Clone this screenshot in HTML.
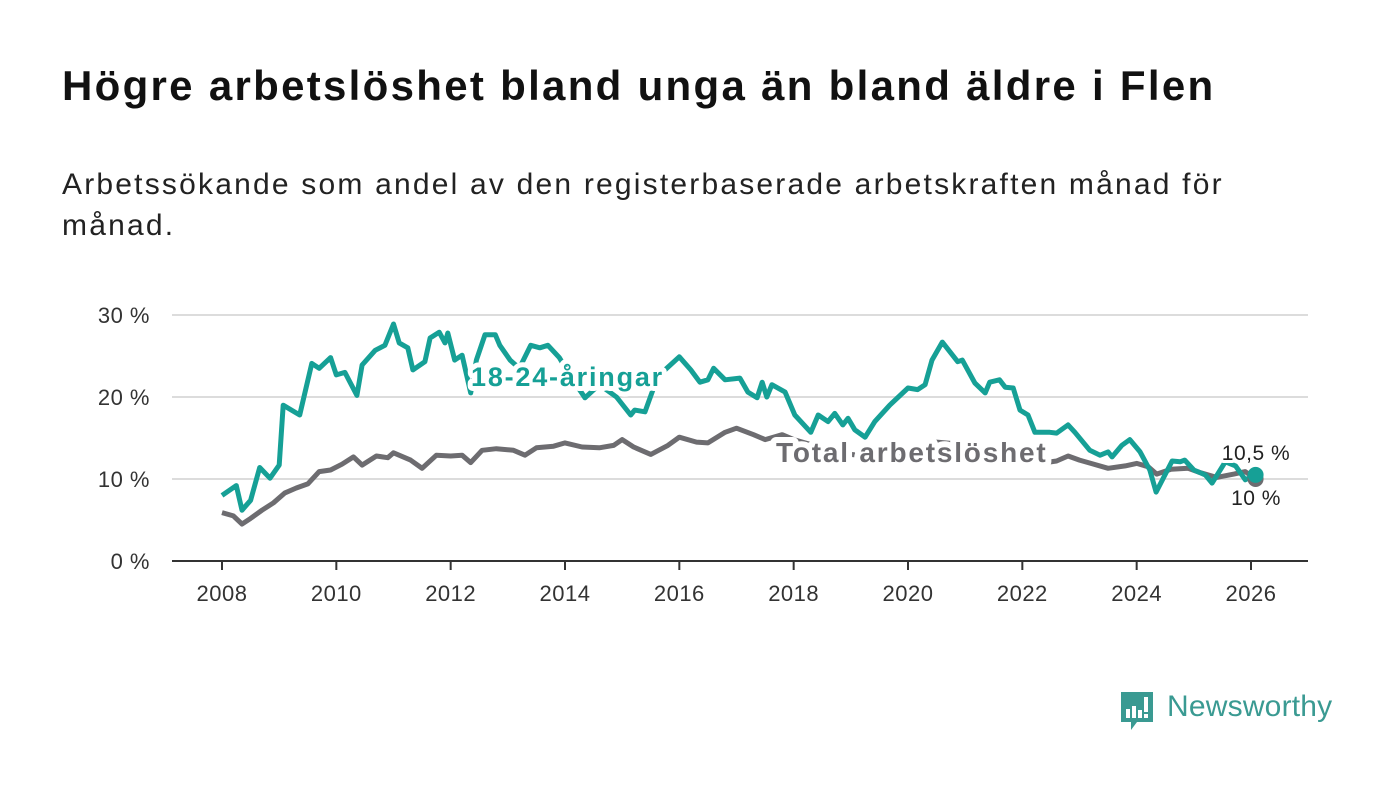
<!DOCTYPE html>
<html><head><meta charset="utf-8">
<style>
body{margin:0;width:1400px;height:794px;background:#fff;font-family:"Liberation Sans","DejaVu Sans",sans-serif;overflow:hidden;position:relative}
h1{position:absolute;left:62px;top:62px;margin:0;font-size:42px;font-weight:bold;color:#111;letter-spacing:2.3px}
.sub{position:absolute;left:62px;top:164px;margin:0;font-size:30px;line-height:41px;color:#222;width:1200px;letter-spacing:2.2px}
svg{position:absolute;left:0;top:0}
.logo{position:absolute;left:1119px;top:690px}
.logotext{position:absolute;left:1167px;top:690px;font-size:30px;color:#3a9a92;font-weight:normal;letter-spacing:0.2px}
</style></head><body>
<h1>Högre arbetslöshet bland unga än bland äldre i Flen</h1>
<p class="sub">Arbetssökande som andel av den registerbaserade arbetskraften månad för månad.</p>
<svg id="chart" width="1400" height="794"></svg>
<svg class="logo" width="36" height="44"><path d="M2 2h32v30H18l-6 8v-8H2z" fill="#3a9a92"/><rect x="7" y="19" width="4" height="9" fill="#fff"/><rect x="13" y="16" width="4" height="12" fill="#fff"/><rect x="19" y="20" width="4" height="8" fill="#fff"/><rect x="25" y="7" width="4" height="15" fill="#fff"/><rect x="25" y="24" width="4" height="4" fill="#fff"/></svg>
<div class="logotext">Newsworthy</div>
<script>
const yearTicks=[2008,2010,2012,2014,2016,2018,2020,2022,2024,2026];
const valueTicks=[0,10,20,30];
const youthX=[2008.0,2008.25,2008.35,2008.5,2008.66,2008.84,2009.0,2009.07,2009.36,2009.57,2009.7,2009.9,2010.0,2010.15,2010.36,2010.45,2010.68,2010.85,2011.0,2011.1,2011.25,2011.34,2011.55,2011.64,2011.8,2011.9,2011.95,2012.07,2012.2,2012.35,2012.45,2012.6,2012.78,2012.86,2013.04,2013.2,2013.4,2013.56,2013.7,2013.9,2014.1,2014.35,2014.6,2014.9,2015.15,2015.22,2015.4,2015.57,2015.75,2016.0,2016.2,2016.36,2016.5,2016.6,2016.8,2017.06,2017.2,2017.36,2017.45,2017.53,2017.62,2017.85,2018.02,2018.3,2018.43,2018.6,2018.72,2018.86,2018.95,2019.07,2019.25,2019.42,2019.68,2020.0,2020.17,2020.3,2020.42,2020.6,2020.87,2020.95,2021.17,2021.35,2021.43,2021.6,2021.7,2021.84,2021.96,2022.1,2022.22,2022.48,2022.6,2022.8,2022.92,2023.18,2023.36,2023.5,2023.57,2023.74,2023.88,2024.06,2024.23,2024.34,2024.62,2024.76,2024.84,2025.0,2025.2,2025.32,2025.55,2025.73,2025.9,2026.08];
const youthV=[8.0,9.2,6.2,7.4,11.4,10.1,11.7,19.0,17.8,24.1,23.5,24.8,22.7,23.0,20.2,23.9,25.7,26.3,28.9,26.6,26.0,23.3,24.3,27.2,27.9,26.6,27.8,24.5,25.1,20.5,24.5,27.6,27.6,26.3,24.5,23.5,26.3,26.0,26.3,24.8,22.5,19.9,21.5,20.0,17.8,18.4,18.2,21.5,23.3,24.9,23.3,21.8,22.1,23.5,22.1,22.3,20.6,19.9,21.8,20.0,21.5,20.6,17.8,15.7,17.8,17.0,18.0,16.6,17.4,16.0,15.1,17.0,19.0,21.1,20.9,21.5,24.5,26.7,24.3,24.5,21.7,20.5,21.8,22.1,21.2,21.1,18.4,17.8,15.7,15.7,15.6,16.6,15.7,13.5,12.9,13.3,12.7,14.1,14.8,13.3,11.1,8.4,12.2,12.1,12.3,11.1,10.5,9.5,12.1,11.6,9.9,10.5];
const totalX=[2008.0,2008.2,2008.35,2008.5,2008.7,2008.9,2009.1,2009.3,2009.5,2009.7,2009.9,2010.1,2010.3,2010.45,2010.7,2010.9,2011.0,2011.3,2011.5,2011.75,2012.0,2012.2,2012.35,2012.55,2012.8,2013.1,2013.3,2013.5,2013.8,2014.0,2014.3,2014.6,2014.85,2015.0,2015.2,2015.5,2015.8,2016.0,2016.3,2016.5,2016.8,2017.0,2017.3,2017.5,2017.8,2018.0,2018.5,2019.0,2019.5,2020.0,2020.5,2021.0,2021.5,2022.0,2022.4,2022.6,2022.8,2023.0,2023.2,2023.5,2023.8,2024.0,2024.2,2024.35,2024.6,2024.9,2025.1,2025.4,2025.7,2025.9,2026.08];
const totalV=[5.9,5.5,4.5,5.2,6.2,7.1,8.3,8.9,9.4,10.9,11.1,11.8,12.7,11.7,12.8,12.6,13.2,12.3,11.3,12.9,12.8,12.9,12.0,13.5,13.7,13.5,12.9,13.8,14.0,14.4,13.9,13.8,14.1,14.8,13.9,13.0,14.1,15.1,14.5,14.4,15.7,16.2,15.4,14.8,15.4,14.8,13.8,13.0,12.6,12.9,14.5,14.2,13.4,12.4,12.0,12.2,12.8,12.3,11.9,11.3,11.6,11.9,11.5,10.6,11.2,11.3,10.8,10.2,10.6,10.9,10.0];
const youthLabel="10,5 %", totalLabel="10 %";

const NS="http://www.w3.org/2000/svg";
const svg=document.getElementById('chart');
const X0=172,X1=1308;
const xs=y=>222+(y-2008)*(1251-222)/18;
const ys=v=>561-v*8.2;
function el(t,a,p){const e=document.createElementNS(NS,t);for(const k in a)e.setAttribute(k,a[k]);(p||svg).appendChild(e);return e;}
const font='"Liberation Sans","DejaVu Sans",sans-serif';
valueTicks.forEach(v=>{
 if(v>0){const g=el('line',{x1:X0,x2:X1,y1:ys(v),y2:ys(v),stroke:'#dcdcdc','stroke-width':2});
 
 }
 const t=el('text',{x:150,y:ys(v)+8,'text-anchor':'end','font-size':22,fill:'#333','font-family':font,'letter-spacing':0.5});
 t.textContent=v+' %';
 
 
});
const ax=el('line',{x1:X0,x2:X1,y1:561,y2:561,stroke:'#333','stroke-width':2});


yearTicks.forEach(yr=>{
 const tk=el('line',{x1:xs(yr),x2:xs(yr),y1:561,y2:570,stroke:'#333','stroke-width':2});
 
 
 const t=el('text',{x:xs(yr),y:601,'text-anchor':'middle','font-size':22,fill:'#333','font-family':font,'letter-spacing':0.5});
 t.textContent=yr;
 
 
});
function path(X,V){return X.map((x,i)=>(i?'L':'M')+xs(x).toFixed(1)+' '+ys(V[i]).toFixed(1)).join(' ');}
const tl=el('path',{d:path(totalX,totalV),fill:'none',stroke:'#6d6c70','stroke-width':5,'stroke-linejoin':'round'});


const yl=el('path',{d:path(youthX,youthV),fill:'none',stroke:'#16a096','stroke-width':5,'stroke-linejoin':'round'});


const lastX=xs(youthX[youthX.length-1]);
const d1=el('circle',{cx:lastX,cy:ys(totalV[totalV.length-1]),r:8,fill:'#6d6c70'});


const d2=el('circle',{cx:lastX,cy:ys(youthV[youthV.length-1]),r:8,fill:'#16a096'});


function halo(txt,x,y,size,col,name,anchor,bold,ls,hw){
 const a={x:x,y:y,'font-size':size,'font-family':font,'text-anchor':anchor||'start','font-weight':bold?'bold':'normal','letter-spacing':ls};
 const h=el('text',Object.assign({},a,{fill:'#fff',stroke:'#fff','stroke-width':hw,'stroke-linejoin':'round'}));h.textContent=txt;
 
 
 const t=el('text',Object.assign({},a,{fill:col}));t.textContent=txt;
 
 
}
halo('18-24-åringar',471,386,27,'#16a096','youth-series-label','start',true,1.8,10);
halo('Total arbetslöshet',776,462,28,'#6d6c70','total-series-label','start',true,1.8,12);
halo(youthLabel,1256,460,21,'#222','youth-end-value','middle',false,0.5,6);
halo(totalLabel,1256,505,21,'#222','total-end-value','middle',false,0.5,6);
</script>
</body></html>
